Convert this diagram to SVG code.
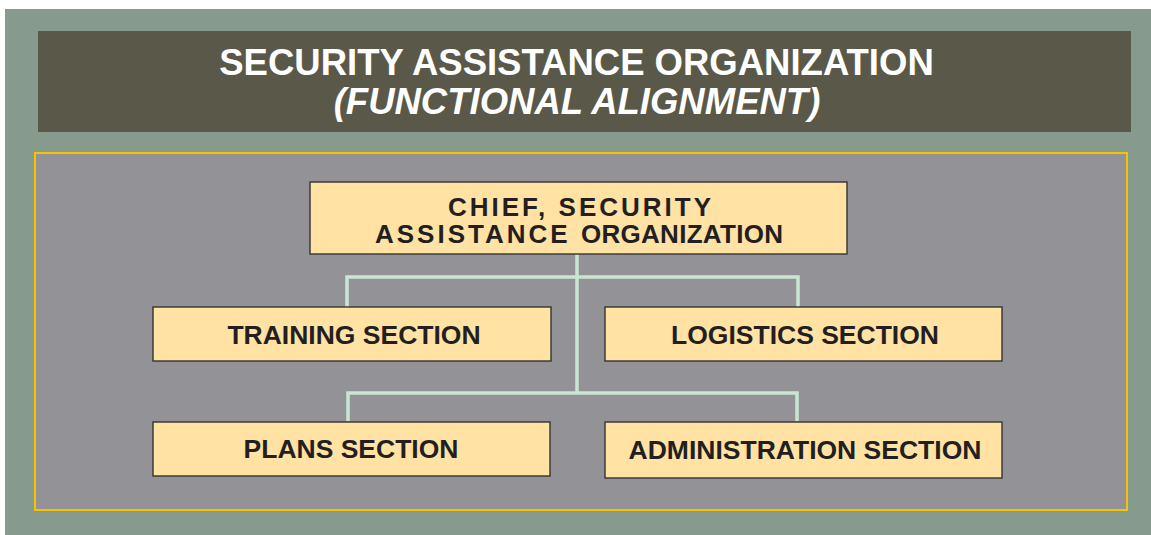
<svg xmlns="http://www.w3.org/2000/svg" width="1151" height="535" viewBox="0 0 1151 535">
<style>
.box{fill:#ffe2a4;stroke:#333333;stroke-width:1.4}
.lbl{font-family:"Liberation Sans",Arial,sans-serif;font-weight:bold;font-size:26.5px;fill:#231f20;text-anchor:middle}
.chief{font-family:"Liberation Sans",Arial,sans-serif;font-weight:bold;font-size:26px;fill:#231f20}
.conn{fill:none;stroke:#c8e6d2;stroke-width:3.5}
.title{font-family:"Liberation Sans",Arial,sans-serif;font-weight:bold;fill:#ffffff;text-anchor:middle}
</style>
<rect x="0" y="0" width="1151" height="535" fill="#ffffff"/>
<rect x="5" y="9" width="1146" height="526" fill="#869b8e"/>
<g id="title">
<rect x="38" y="31" width="1093" height="101" fill="#5a5849"/>
<text class="title" x="576.5" y="75" font-size="36.5">SECURITY ASSISTANCE ORGANIZATION</text>
<text class="title" x="577" y="114" font-size="36.5" font-style="italic">(FUNCTIONAL ALIGNMENT)</text>
</g>
<rect x="35" y="153" width="1092" height="357" fill="#939397" stroke="#f5c400" stroke-width="2"/>
<g id="connectors">
<path class="conn" d="M577 254 V393"/>
<path class="conn" d="M347 307 V277 H798 V307"/>
<path class="conn" d="M348 421 V393 H797 V421"/>
</g>
<g id="chief">
<rect class="box" x="310" y="182" width="537" height="72"/>
<text class="chief" x="448" y="215.5" letter-spacing="3">CHIEF, SECURITY</text>
<text class="chief" x="375" y="243"><tspan letter-spacing="3">ASSISTANCE </tspan><tspan letter-spacing="0.3">ORGANIZATION</tspan></text>
</g>
<g id="training">
<rect class="box" x="153" y="307" width="398" height="54"/>
<text class="lbl" x="354" y="343.5">TRAINING SECTION</text>
</g>
<g id="logistics">
<rect class="box" x="605" y="307" width="397" height="54"/>
<text class="lbl" x="805" y="343.5">LOGISTICS SECTION</text>
</g>
<g id="plans">
<rect class="box" x="153" y="422" width="397" height="54"/>
<text class="lbl" x="351" y="457.5">PLANS SECTION</text>
</g>
<g id="administration">
<rect class="box" x="605" y="422" width="397" height="56"/>
<text class="lbl" x="805" y="458.5">ADMINISTRATION SECTION</text>
</g>
</svg>
